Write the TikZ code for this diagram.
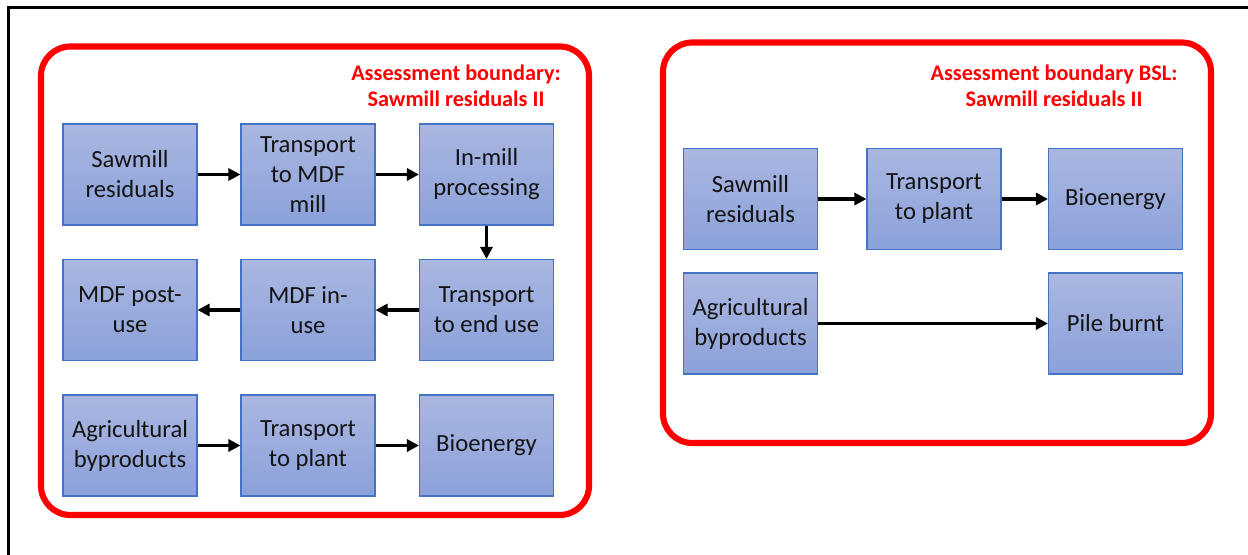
\documentclass[tikz,border=0pt]{standalone}
\usepackage{fontspec}
\setmainfont{Carlito}
\usetikzlibrary{arrows.meta}
\definecolor{boxtop}{RGB}{170,183,225}
\definecolor{boxbot}{RGB}{139,161,218}
\definecolor{boxline}{RGB}{68,114,196}
\definecolor{txt}{RGB}{20,20,20}
\tikzset{
  stage/.style={draw=boxline, line width=0.8pt, top color=boxtop, bottom color=boxbot,
    minimum width=100.5pt, minimum height=75.75pt, inner sep=0pt, align=center,
    text=txt, font=\fontsize{18.5}{22.5}\selectfont},
  flow/.style={draw=black, line width=2.4pt, -{Triangle[length=9pt,width=9pt]}},
  boundary/.style={draw=red, line width=4.6pt, rounded corners=22pt},
  heading/.style={text=red, inner sep=0pt, align=center,
    font=\fontsize{16.7}{19.5}\selectfont\bfseries}
}
\begin{document}
\begin{tikzpicture}[x=0.75pt,y=-0.75pt]
\useasboundingbox (0,0) rectangle (1248,554);
% outer frame
\draw[line width=2.2pt] (1260,7.5) -- (8.5,7.5) -- (8.5,570);

% assessment boundaries
\draw[boundary] (41,46.5) rectangle (589,515);
\draw[boundary] (663,42.5) rectangle (1211,443);

\node[heading] (tleft)  at (456,86)  {Assessment boundary:\\Sawmill residuals II};
\node[heading] (tright) at (1054,86) {Assessment boundary BSL:\\Sawmill residuals II};

% left boundary: MDF pathway
\node[stage] (saw)   at (130,174.5)   {Sawmill\\residuals};
\node[stage] (tmdf)  at (308,174.5)   {Transport\\to MDF\\mill};
\node[stage] (inmill) at (486.5,174.5) {In-mill\\processing};
\node[stage] (post)  at (130,310)     {MDF post-\\use};
\node[stage] (inuse) at (308,310)     {MDF in-\\use};
\node[stage] (tend)  at (486.5,310)   {Transport\\to end use};
\node[stage] (agr)   at (130,445.5)   {Agricultural\\byproducts};
\node[stage] (tpl)   at (308,445.5)   {Transport\\to plant};
\node[stage] (bio)   at (486.5,445.5) {Bioenergy};

\draw[flow] (saw) -- (tmdf);
\draw[flow] (tmdf) -- (inmill);
\draw[flow] (inmill) -- (tend);
\draw[flow] (tend) -- (inuse);
\draw[flow] (inuse) -- (post);
\draw[flow] (agr) -- (tpl);
\draw[flow] (tpl) -- (bio);

% right boundary: baseline
\node[stage] (rsaw) at (750.5,199)   {Sawmill\\residuals};
\node[stage] (rtpl) at (934,199)     {Transport\\to plant};
\node[stage] (rbio) at (1115.5,199)  {Bioenergy};
\node[stage] (ragr) at (750.5,323.5) {Agricultural\\byproducts};
\node[stage] (pile) at (1115.5,323.5) {Pile burnt};

\draw[flow] (rsaw) -- (rtpl);
\draw[flow] (rtpl) -- (rbio);
\draw[flow] (ragr) -- (pile);
\end{tikzpicture}
\end{document}
